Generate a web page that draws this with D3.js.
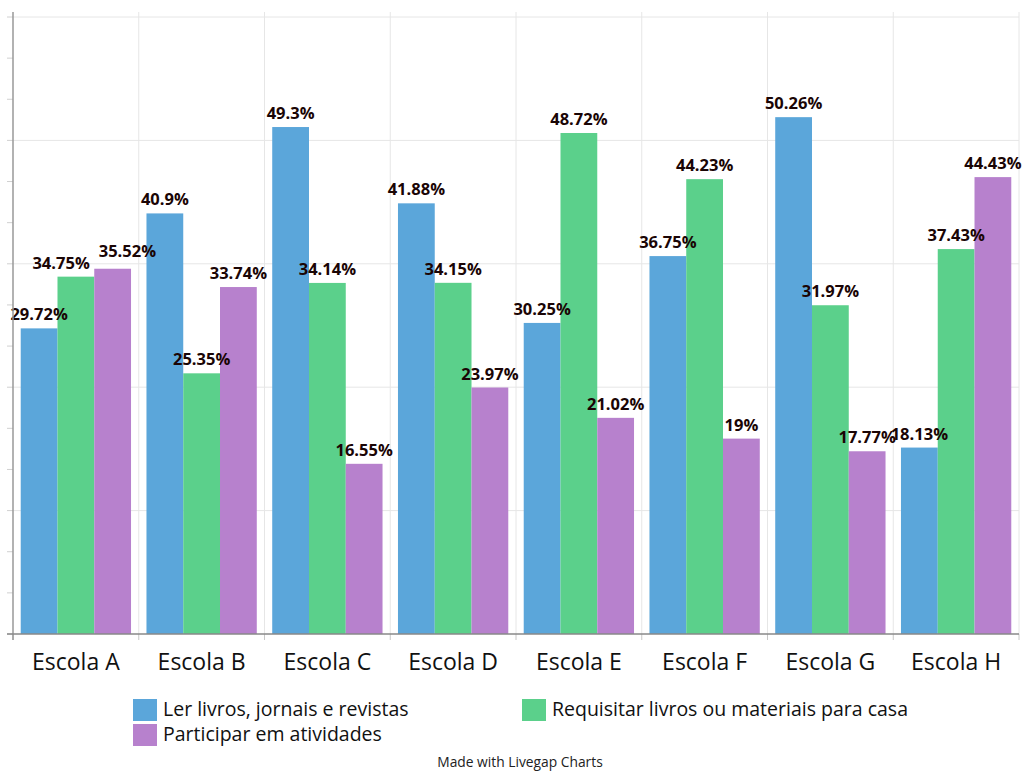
<!DOCTYPE html>
<html><head><meta charset="utf-8">
<script src="https://cdn.jsdelivr.net/npm/d3@7"></script>
<style>body{margin:0;background:#fff;}svg{display:block;font-family:"Open Sans","Noto Sans",sans-serif;}</style>
</head><body>
<svg id="c" width="1023" height="771"></svg>
<script>
const categories = ["Escola A","Escola B","Escola C","Escola D","Escola E","Escola F","Escola G","Escola H"];
const seriesNames = ["Ler livros, jornais e revistas","Requisitar livros ou materiais para casa","Participar em atividades"];
const serLer = [29.72,40.9,49.3,41.88,30.25,36.75,50.26,18.13];
const serRequisitar = [34.75,25.35,34.14,34.15,48.72,44.23,31.97,37.43];
const serParticipar = [35.52,33.74,16.55,23.97,21.02,19,17.77,44.43];
const colors = ["#5ba6da","#5bd08b","#b781cd"];
const yMax = 60;
const majorTicks = [0,12,24,36,48,60];
const minorTicks = d3.range(0,61,4);

const series = [serLer, serRequisitar, serParticipar];
const svg = d3.select("#c");
const L = 13, R = 1019, T = 17, B = 634;
const x = d3.scaleBand().domain(categories).range([L,R]).paddingInner(0).paddingOuter(0);
const x1 = d3.scaleBand().domain(d3.range(3)).range([0,x.bandwidth()]).paddingOuter(0.21).paddingInner(0);
const y = d3.scaleLinear().domain([0,yMax]).range([B,T]);

// gridlines
svg.append("g").selectAll("line").data(majorTicks.filter(d=>d>0)).join("line")
  .attr("x1",L).attr("x2",R).attr("y1",d=>y(d)).attr("y2",d=>y(d))
  .attr("stroke","#e6e6e6").attr("stroke-width",1);
const bounds = categories.map(c=>x(c)).concat([R]);
svg.append("g").selectAll("line").data(bounds.slice(1)).join("line")
  .attr("x1",d=>d).attr("x2",d=>d).attr("y1",12).attr("y2",B)
  .attr("stroke","#e6e6e6").attr("stroke-width",1);
// minor ticks left
svg.append("g").selectAll("line").data(minorTicks).join("line")
  .attr("x1",L-6).attr("x2",L).attr("y1",d=>y(d)).attr("y2",d=>y(d))
  .attr("stroke","#d0d0d0");
// bottom ticks
svg.append("g").selectAll("line").data(bounds).join("line")
  .attr("x1",d=>d).attr("x2",d=>d).attr("y1",B).attr("y2",B+6)
  .attr("stroke","#c8c8c8");

// bars
const g = svg.append("g");
categories.forEach((c,i)=>{
  series.forEach((s,j)=>{
    g.append("rect").attr("x",x(c)+x1(j)).attr("width",x1.bandwidth())
      .attr("y",y(s[i])).attr("height",B-y(s[i])).attr("fill",colors[j]);
  });
});
// axes lines
svg.append("line").attr("x1",L).attr("x2",L).attr("y1",12).attr("y2",B+6).attr("stroke","#999").attr("stroke-width",1.5);
svg.append("line").attr("x1",L-6).attr("x2",R).attr("y1",B).attr("y2",B).attr("stroke","#888").attr("stroke-width",1.5);

// value labels with simple in-group collision nudge
categories.forEach((c,i)=>{
  const labs = series.map((s,j)=>{
    const t = g.append("text").attr("text-anchor","middle").attr("font-size",16.5).attr("font-weight","bold")
      .attr("fill","#1a0505").text(s[i]+"%");
    const w = t.node().getComputedTextLength();
    return {t, w, cx: x(c)+x1(j)+x1.bandwidth()/2, by: y(s[i])-8};
  });
  for (let j=0;j<labs.length-1;j++){
    const a=labs[j], b=labs[j+1];
    const gap = (b.cx-b.w/2)-(a.cx+a.w/2);
    if (gap<0 && Math.abs(a.by-b.by)<16){
      const need=(9-gap)/2;
      a.cx-=need; b.cx+=need;
      if (a.by<b.by) a.by-=4; else b.by-=4;
    }
  }
  labs.forEach(l=>l.t.attr("x",l.cx).attr("y",l.by));
});

// category labels
svg.append("g").selectAll("text").data(categories).join("text")
  .attr("x",d=>x(d)+x.bandwidth()/2).attr("y",670).attr("text-anchor","middle")
  .attr("font-size",23).attr("fill","#111").text(d=>d);

// legend
const leg = [{i:0,x:133,y:699},{i:1,x:522,y:699},{i:2,x:133,y:724}];
leg.forEach(l=>{
  svg.append("rect").attr("x",l.x).attr("y",l.y).attr("width",24).attr("height",22).attr("fill",colors[l.i]);
  svg.append("text").attr("x",l.x+30).attr("y",l.y+17).attr("font-size",19.5).attr("fill","#111").text(seriesNames[l.i]);
});
svg.append("text").attr("x",520).attr("y",767).attr("text-anchor","middle").attr("font-size",13.8).attr("fill","#222").text("Made with Livegap Charts");
</script>
</body></html>
